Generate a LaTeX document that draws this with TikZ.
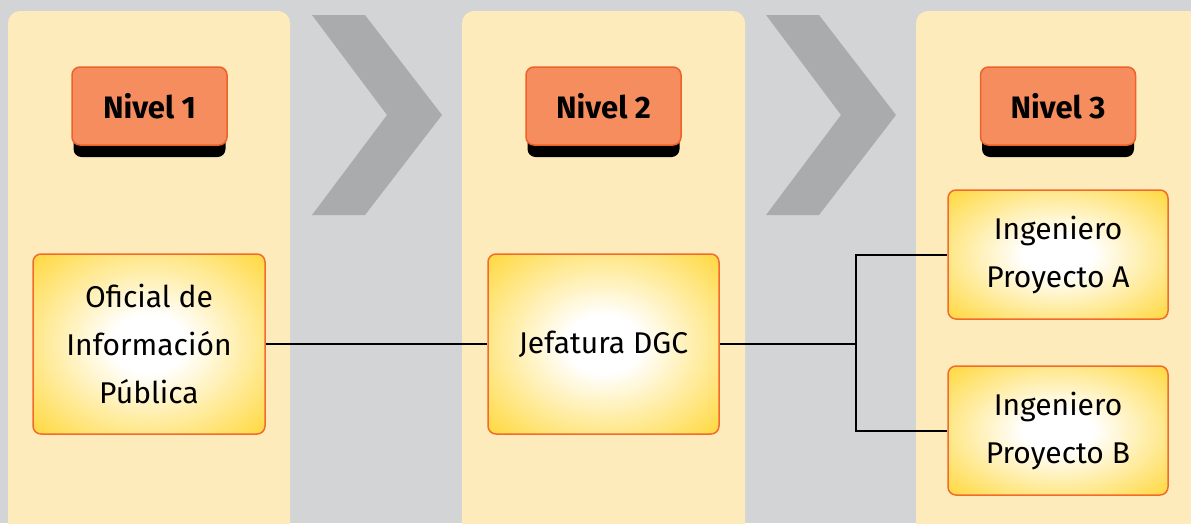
\documentclass[tikz,border=0pt]{standalone}
\usepackage{fontspec}
\setmainfont{Fira Sans}
\usetikzlibrary{calc}
\definecolor{bggray}{HTML}{D3D4D6}
\definecolor{colbeige}{HTML}{FEEBBB}
\definecolor{chevgray}{HTML}{AAABAD}
\definecolor{lvlfill}{HTML}{F58D5E}
\definecolor{lvlborder}{HTML}{EE6128}
\definecolor{boxborder}{HTML}{F26B2E}
\definecolor{boxyellow}{HTML}{FFCC00}
\pgfdeclareradialshading{glow}{\pgfpoint{0bp}{0bp}}{color(0bp)=(white); color(8bp)=(white); color(44bp)=(boxyellow); color(50bp)=(boxyellow)}
\tikzset{
  column/.style={fill=colbeige, rounded corners=12pt},
  chevron/.style={fill=chevgray},
  lvl/.style={draw=lvlborder, line width=1.5pt, fill=lvlfill, rounded corners=8pt,
    minimum width=155pt, minimum height=78pt, inner sep=0pt,
    font=\fontsize{31}{36}\selectfont\bfseries},
  lvlshadow/.style={fill=black, rounded corners=8pt},
  rolebox/.style={draw=boxborder, line width=1.5pt, shading=glow, rounded corners=8pt,
    inner sep=0pt, align=center, font=\fontsize{30}{48}\selectfont},
  link/.style={draw=black, line width=2pt}
}
\begin{document}
\begin{tikzpicture}[x=1pt,y=-1pt]
\useasboundingbox (0,0) rectangle (1191,523);
\clip (0,0) rectangle (1191,523);
\fill[bggray] (0,0) rectangle (1191,523);
% columns
\fill[column] (8,11) rectangle (290,560);
\fill[column] (462,11) rectangle (745,560);
\fill[column] (916,11) rectangle (1230,560);
% chevrons
\fill[chevron] (312,15) -- (365,15) -- (442,115) -- (365,215) -- (312,215) -- (387,115) -- cycle;
\fill[chevron] (766,15) -- (819,15) -- (896,115) -- (819,215) -- (766,215) -- (841,115) -- cycle;
% level headers
\foreach \nm/\cx/\lab in {n1/149.5/Nivel 1, n2/603.5/Nivel 2, n3/1058/Nivel 3}{
  \fill[lvlshadow] (\cx-76,100) rectangle (\cx+76,157);
  \node[lvl] (\nm) at (\cx,106) {\lab};
}
% role boxes
\node[rolebox, minimum width=232pt, minimum height=180pt] (b1) at (149,344)
  {Oficial de\\Información\\Pública};
\node[rolebox, minimum width=231pt, minimum height=180pt] (b2) at (603.5,344)
  {Jefatura DGC};
\node[rolebox, minimum width=220pt, minimum height=129pt] (b3a) at (1058,254.5)
  {Ingeniero\\Proyecto A};
\node[rolebox, minimum width=220pt, minimum height=129pt] (b3b) at (1058,430.5)
  {Ingeniero\\Proyecto B};
% connectors
\coordinate (j) at (856,344);
\draw[link] (b1.east) -- (b2.west);
\draw[link] (b2.east) -- (j);
\draw[link] (j) |- (b3a.west);
\draw[link] (j) |- (b3b.west);
\end{tikzpicture}
\end{document}
